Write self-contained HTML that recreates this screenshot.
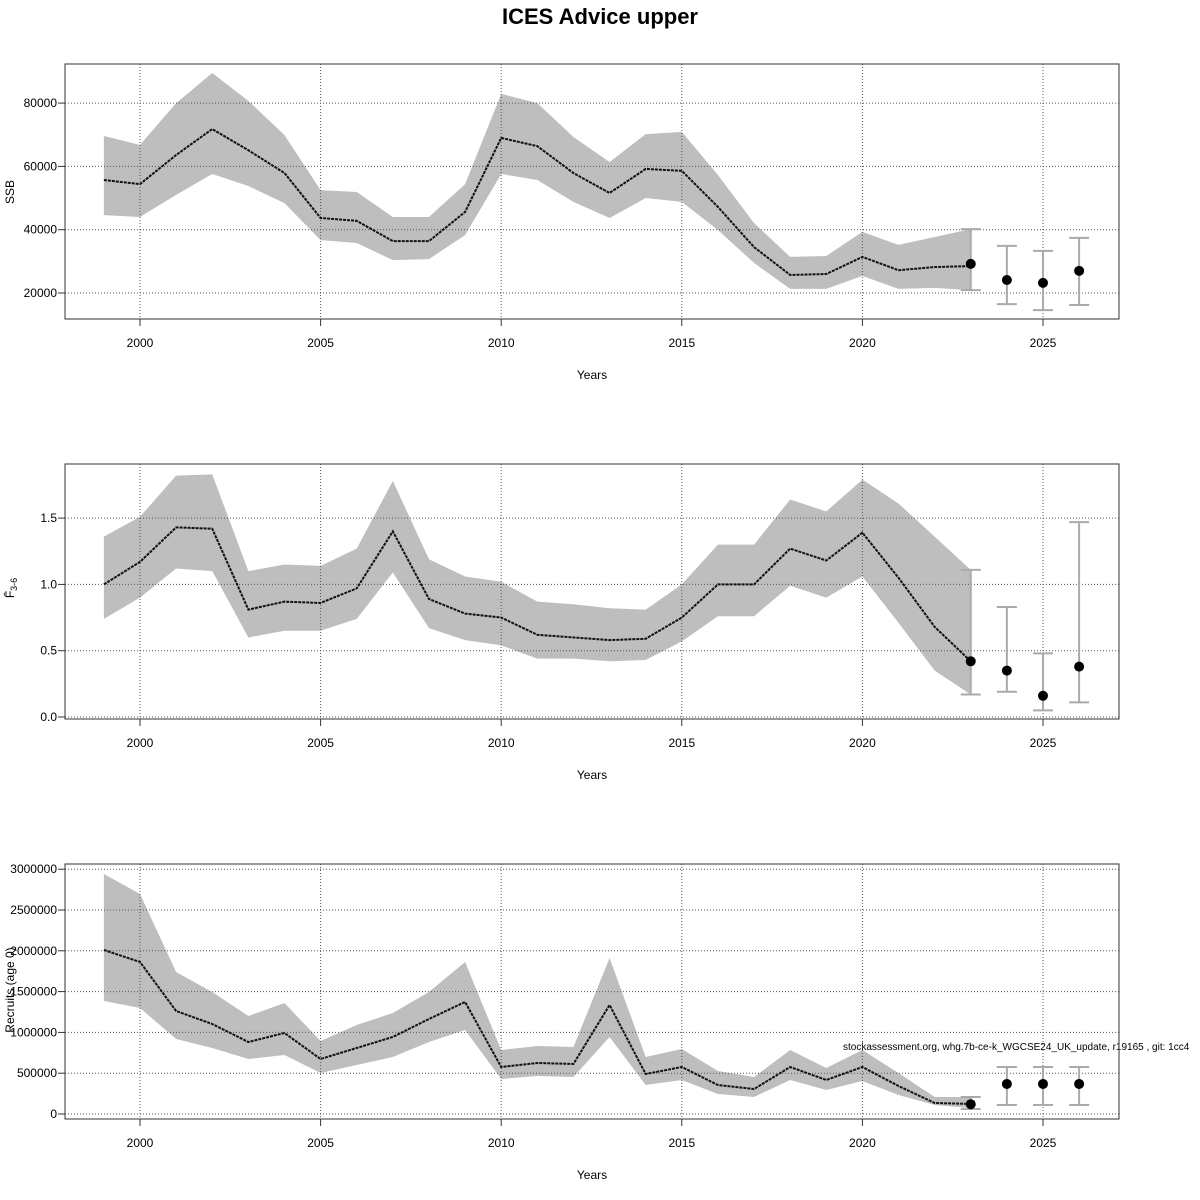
<!DOCTYPE html>
<html><head><meta charset="utf-8"><style>
body{margin:0;background:#fff}
svg{display:block;font-family:"Liberation Sans",Arial,sans-serif}
</style></head><body>
<svg id="chart" width="1200" height="1200" viewBox="0 0 1200 1200">
<text x="600" y="24" text-anchor="middle" font-size="22" font-weight="bold">ICES Advice upper</text>
<text x="843" y="1050" text-anchor="start" font-size="10">stockassessment.org, whg.7b-ce-k_WGCSE24_UK_update, r19165 , git: 1cc4</text>
</svg>
<script>
const years=[1999,2000,2001,2002,2003,2004,2005,2006,2007,2008,2009,2010,2011,2012,2013,2014,2015,2016,2017,2018,2019,2020,2021,2022,2023];
const xTicks=[2000,2005,2010,2015,2020,2025];
const fcYears=[2023,2024,2025,2026];

const ssbMid=[55700,54400,63600,71800,65100,57900,43700,42800,36400,36400,45600,69000,66400,57900,51600,59200,58600,47200,34500,25700,26000,31400,27200,28200,28500];
const ssbHi=[69600,66800,80000,89500,80700,69900,52500,51900,44000,44000,54400,82900,80000,69300,61400,70200,70900,57300,42100,31400,31700,39300,35200,37700,40200];
const ssbLo=[44600,44000,51000,57600,53800,48400,36700,35800,30400,30700,38300,57600,55700,48800,43700,50000,48800,39900,29500,21300,21300,25400,21300,21600,20900];
const ssbFc=[29200,24100,23200,27000];
const ssbFcHi=[40200,34900,33300,37400];
const ssbFcLo=[20900,16500,14600,16200];
const ssbTicks=[20000,40000,60000,80000];

const fMid=[1.00,1.17,1.43,1.42,0.81,0.87,0.86,0.97,1.40,0.89,0.78,0.75,0.62,0.60,0.58,0.59,0.75,1.00,1.00,1.27,1.18,1.39,1.05,0.68,0.42];
const fHi=[1.36,1.51,1.82,1.83,1.10,1.15,1.14,1.27,1.78,1.19,1.06,1.02,0.87,0.85,0.82,0.81,1.00,1.30,1.30,1.64,1.55,1.79,1.61,1.36,1.11];
const fLo=[0.74,0.90,1.12,1.10,0.60,0.65,0.65,0.74,1.09,0.67,0.58,0.54,0.44,0.44,0.42,0.43,0.57,0.76,0.76,0.99,0.90,1.06,0.71,0.35,0.17];
const fFc=[0.42,0.35,0.16,0.38];
const fFcHi=[1.11,0.83,0.48,1.47];
const fFcLo=[0.17,0.19,0.05,0.11];
const fTicks=[0.0,0.5,1.0,1.5];
const fTickLabels=["0.0","0.5","1.0","1.5"];

const recMid=[2010000,1863000,1262000,1103000,882000,993000,674000,809000,944000,1164000,1373000,576000,625000,613000,1336000,490000,576000,355000,306000,576000,417000,576000,343000,135000,123000];
const recHi=[2941000,2696000,1740000,1495000,1201000,1360000,895000,1091000,1238000,1495000,1863000,784000,833000,821000,1912000,699000,797000,527000,453000,784000,564000,784000,502000,208000,208000];
const recLo=[1385000,1299000,919000,809000,674000,723000,502000,600000,699000,882000,1029000,429000,466000,453000,944000,355000,417000,245000,208000,417000,294000,404000,233000,110000,74000];
const recFc=[120000,368000,368000,368000];
const recFcHi=[208000,576000,576000,576000];
const recFcLo=[61000,110000,110000,110000];
const recTicks=[0,500000,1000000,1500000,2000000,2500000,3000000];

const svg=document.getElementById('chart');
const NS='http://www.w3.org/2000/svg';
function mk(tag,attrs,parent){const e=document.createElementNS(NS,tag);for(const k in attrs)e.setAttribute(k,attrs[k]);(parent||svg).appendChild(e);return e;}
const X0=65,X1=1119;
function xs(yr){return 140+(yr-2000)*36.12;}

function panel(name,top,bottom,yScale,mid,hi,lo,fc,fcHi,fcLo,ticks,tickLabels,ylabel,ylabelY){
  const g=mk('g',{});
  
  
  let pts=years.map((y,i)=>xs(y)+','+yScale(hi[i]));
  for(let i=years.length-1;i>=0;i--)pts.push(xs(years[i])+','+yScale(lo[i]));
  const band=mk('polygon',{points:pts.join(' '),fill:'#bebebe',stroke:'none'},g);
  
  
  xTicks.forEach(t=>{mk('line',{x1:xs(t),x2:xs(t),y1:top,y2:bottom,stroke:'#555','stroke-width':1,'stroke-dasharray':'1,2'},g);});
  ticks.forEach(t=>{mk('line',{x1:X0,x2:X1,y1:yScale(t),y2:yScale(t),stroke:'#555','stroke-width':1,'stroke-dasharray':'1,2'},g);});
  const line=mk('polyline',{points:years.map((y,i)=>xs(y)+','+yScale(mid[i])).join(' '),fill:'none',stroke:'#111','stroke-width':2,'stroke-dasharray':'3,1'},g);
  
  
  fcYears.forEach((y,i)=>{
    const x=xs(y);
    mk('line',{x1:x,x2:x,y1:yScale(fcHi[i]),y2:yScale(fcLo[i]),stroke:'#aaa','stroke-width':2},g);
    mk('line',{x1:x-10,x2:x+10,y1:yScale(fcHi[i]),y2:yScale(fcHi[i]),stroke:'#aaa','stroke-width':2},g);
    mk('line',{x1:x-10,x2:x+10,y1:yScale(fcLo[i]),y2:yScale(fcLo[i]),stroke:'#aaa','stroke-width':2},g);
    const c=mk('circle',{cx:x,cy:yScale(fc[i]),r:5,fill:'#000'},g);
    
    
  });
  mk('rect',{x:X0,y:top,width:X1-X0,height:bottom-top,fill:'none',stroke:'#333','stroke-width':1},g);
  xTicks.forEach(t=>{
    mk('line',{x1:xs(t),x2:xs(t),y1:bottom,y2:bottom+7,stroke:'#333'},g);
    const tx=mk('text',{x:xs(t),y:bottom+28,'text-anchor':'middle','font-size':12},g);tx.textContent=t;
    
    
  });
  ticks.forEach((t,i)=>{
    mk('line',{x1:X0-7,x2:X0,y1:yScale(t),y2:yScale(t),stroke:'#333'},g);
    const tx=mk('text',{x:X0-8,y:yScale(t)+4,'text-anchor':'end','font-size':12},g);tx.textContent=tickLabels[i];
    
    
  });
  const xl=mk('text',{x:592,y:bottom+60,'text-anchor':'middle','font-size':12},g);xl.textContent='Years';
  
  
  const yl=mk('text',{x:0,y:0,'text-anchor':'middle','font-size':12,transform:'translate(14,'+ylabelY+') rotate(-90)'},g);
  yl.innerHTML=ylabel;
  
  
}
panel('ssb',64,319,v=>293-(v-20000)/20000*63.3,ssbMid,ssbHi,ssbLo,ssbFc,ssbFcHi,ssbFcLo,ssbTicks,ssbTicks.map(String),'SSB',192);
panel('fbar',464,719,v=>717-v*132.6,fMid,fHi,fLo,fFc,fFcHi,fFcLo,fTicks,fTickLabels,'F̄<tspan font-size="9" dy="3">3-6</tspan>',588);
panel('recruits',864,1119,v=>1114-v/500000*40.8,recMid,recHi,recLo,recFc,recFcHi,recFcLo,recTicks,recTicks.map(String),'Recruits (age 0)',990);
</script>
</body></html>
